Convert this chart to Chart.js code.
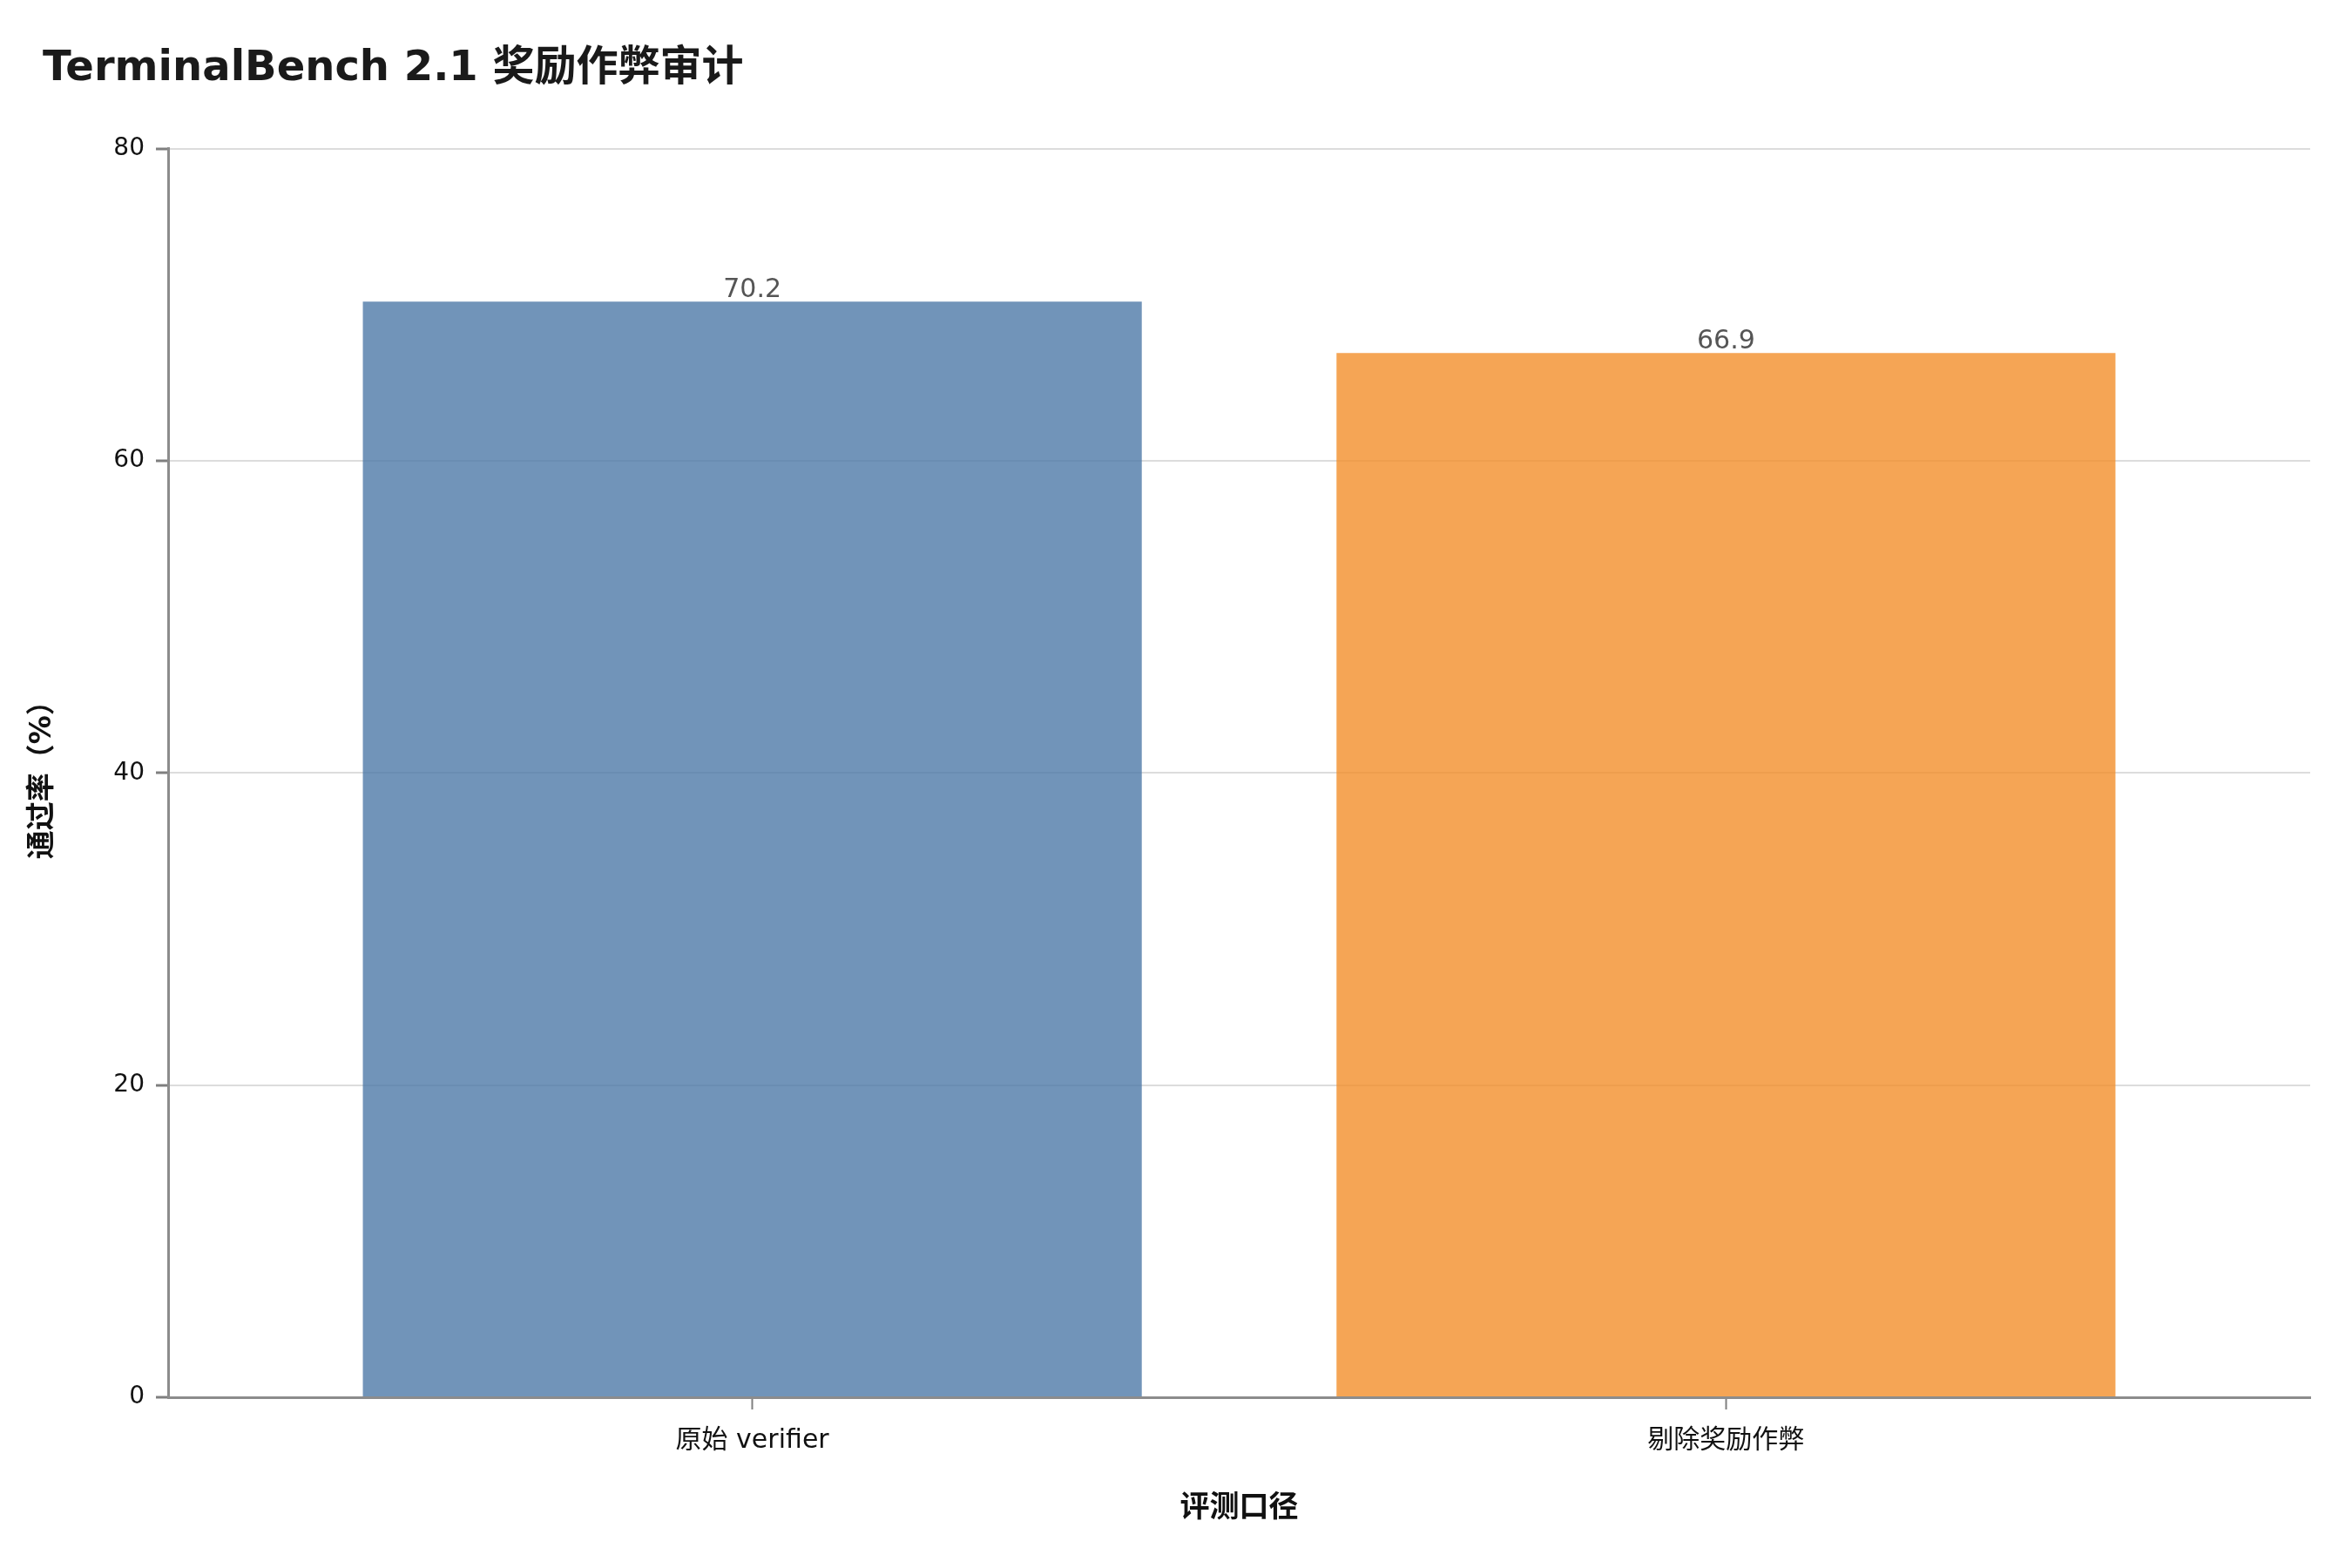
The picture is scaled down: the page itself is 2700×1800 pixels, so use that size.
<!DOCTYPE html>
<html>
<head>
<meta charset="utf-8">
<script src="https://cdn.jsdelivr.net/npm/chart.js@4"></script>
<style>
  html, body { margin: 0; padding: 0; background: #fff; }
  #wrap { width: 2700px; height: 1800px; }
</style>
</head>
<body>
<div id="wrap"><canvas id="Chart" width="2700" height="1800"></canvas></div>
<script>
// データ
const categories = ['原始 verifier', '剔除奖励作弊'];
const passRates = [70.2, 66.9];
const barColors = ['rgba(78,121,167,0.8)', 'rgba(242,142,43,0.8)'];
const yTicks = [0, 20, 40, 60, 80];

const FONT = "'DejaVu Sans', 'Noto Sans CJK SC', sans-serif";

// 棒の上に値を描く
const valueLabels = {
  id: 'valueLabels',
  afterDatasetsDraw(chart) {
    const ctx = chart.ctx;
    const meta = chart.getDatasetMeta(0);
    ctx.save();
    ctx.font = '30px ' + FONT;
    ctx.fillStyle = '#555555';
    ctx.textAlign = 'center';
    ctx.textBaseline = 'alphabetic';
    meta.data.forEach((bar, i) => {
      ctx.fillText(passRates[i].toFixed(1), bar.x, bar.y - 5);
    });
    ctx.restore();
  }
};

const lineCtx = document.getElementById('Chart');
const config = {
  type: 'bar',
  data: {
    datasets: [{
      data: categories.map((c, i) => ({ x: i, y: passRates[i] })),
      backgroundColor: barColors,
      borderWidth: 0,
      categoryPercentage: 1,
      barPercentage: 0.8
    }]
  },
  options: {
    responsive: false,
    animation: false,
    devicePixelRatio: 1,
    layout: { padding: { left: 49, right: 48, top: 0, bottom: 0 } },
    plugins: {
      legend: { display: false },
      tooltip: { enabled: false },
      title: {
        display: true,
        text: 'TerminalBench 2.1 奖励作弊审计',
        align: 'start',
        color: '#1a1a1a',
        font: { family: FONT, size: 48, weight: 'bold' },
        padding: { top: 51, bottom: 62 }
      }
    },
    scales: {
      x: {
        type: 'linear',
        min: -0.6,
        max: 1.6,
        offset: false,
        z: 1,
        afterBuildTicks(scale) {
          scale.ticks = categories.map((c, i) => ({ value: i }));
        },
        afterFit(scale) { scale.height = 196; },
        ticks: {
          callback: (v) => categories[v] ?? '',
          color: '#111',
          font: { family: FONT, size: 30 },
          padding: 18,
          maxRotation: 0
        },
        grid: {
          offset: false,
          drawOnChartArea: false,
          drawTicks: true,
          tickLength: 14,
          tickColor: '#7f7f7f',
          tickWidth: 2
        },
        border: { color: '#8c8c8c', width: 3 },
        title: {
          display: true,
          text: '评测口径',
          color: '#111',
          font: { family: FONT, size: 34, weight: 'bold' },
          padding: { top: 0, bottom: 47 }
        }
      },
      y: {
        min: 0,
        max: 80,
        afterBuildTicks(scale) {
          scale.ticks = yTicks.map(v => ({ value: v }));
        },
        afterFit(scale) { scale.width = 144; },
        ticks: {
          color: '#111',
          font: { family: FONT, size: 28 },
          padding: 13
        },
        grid: {
          color: '#dcdcdc',
          lineWidth: 2,
          tickLength: 14,
          tickColor: '#7f7f7f',
          tickWidth: 3
        },
        border: { color: '#8c8c8c', width: 3 },
        title: {
          display: true,
          text: '通过率（%）',
          color: '#111',
          font: { family: FONT, size: 33, weight: 'bold' },
          padding: { top: -19, bottom: 0 }
        }
      }
    }
  },
  plugins: [valueLabels]
};
const barChart = new Chart(lineCtx, config);
</script>
</body>
</html>
